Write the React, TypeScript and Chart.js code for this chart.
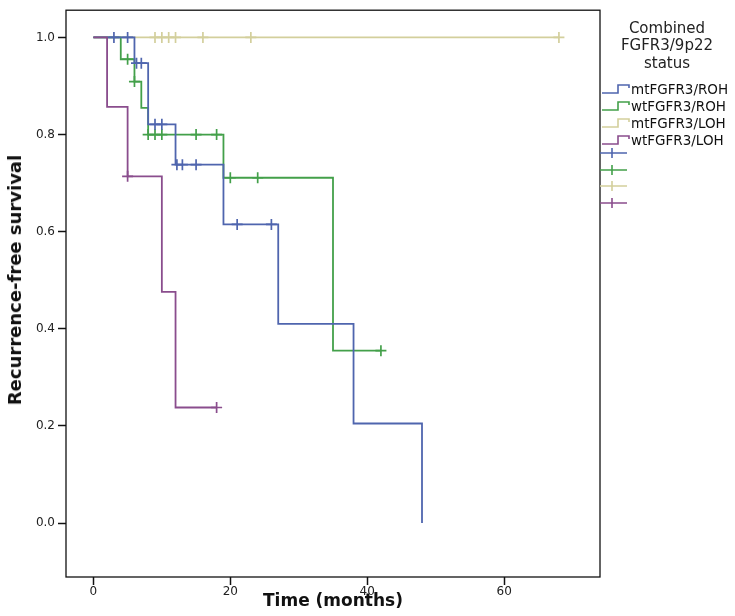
import React, { useEffect, useRef } from "react";
import { Chart, registerables } from "chart.js";

Chart.register(...registerables);

// ---- axes ----
const X_TICKS = [0, 20, 40, 60];
const Y_TICKS = [0, 0.2, 0.4, 0.6, 0.8, 1.0];
const X_MIN = -4;
const X_MAX = 74;
const Y_MIN = -0.111;
const Y_MAX = 1.056;
const X_TITLE = "Time (months)";
const Y_TITLE = "Recurrence-free survival";

// ---- legend ----
const LEGEND_TITLE = ["Combined", "FGFR3/9p22", "status"];
const SERIES_NAMES = ["mtFGFR3/ROH", "wtFGFR3/ROH", "mtFGFR3/LOH", "wtFGFR3/LOH"];
const SERIES_COLORS = ["#4f65ae", "#43a04a", "#d3cf9c", "#8a4d8d"];

// ---- survival curves (time in months, survival proportion) ----
const MT_ROH_TIME = [0, 6, 8, 12, 19, 27, 38, 48];
const MT_ROH_SURV = [1.0, 0.947, 0.821, 0.738, 0.615, 0.41, 0.205, 0.0];
const MT_ROH_CENS_TIME = [3, 5, 6.3, 7, 9, 10, 12.2, 13, 15, 21, 26];
const MT_ROH_CENS_SURV = [1.0, 1.0, 0.947, 0.947, 0.821, 0.821, 0.738, 0.738, 0.738, 0.615, 0.615];

const WT_ROH_TIME = [0, 4, 6, 7, 8, 19, 35, 42];
const WT_ROH_SURV = [1.0, 0.955, 0.909, 0.855, 0.8, 0.711, 0.355, 0.355];
const WT_ROH_CENS_TIME = [5, 6, 8, 9, 10, 15, 18, 20, 24, 42];
const WT_ROH_CENS_SURV = [0.955, 0.909, 0.8, 0.8, 0.8, 0.8, 0.8, 0.711, 0.711, 0.355];

const MT_LOH_TIME = [0, 68];
const MT_LOH_SURV = [1.0, 1.0];
const MT_LOH_CENS_TIME = [9, 10, 11, 12, 16, 23, 68];
const MT_LOH_CENS_SURV = [1.0, 1.0, 1.0, 1.0, 1.0, 1.0, 1.0];

const WT_LOH_TIME = [0, 2, 5, 10, 12, 18];
const WT_LOH_SURV = [1.0, 0.857, 0.714, 0.476, 0.238, 0.238];
const WT_LOH_CENS_TIME = [5, 18];
const WT_LOH_CENS_SURV = [0.714, 0.238];

const CURVES = [
  { t: MT_ROH_TIME, s: MT_ROH_SURV, ct: MT_ROH_CENS_TIME, cs: MT_ROH_CENS_SURV },
  { t: WT_ROH_TIME, s: WT_ROH_SURV, ct: WT_ROH_CENS_TIME, cs: WT_ROH_CENS_SURV },
  { t: MT_LOH_TIME, s: MT_LOH_SURV, ct: MT_LOH_CENS_TIME, cs: MT_LOH_CENS_SURV },
  { t: WT_LOH_TIME, s: WT_LOH_SURV, ct: WT_LOH_CENS_TIME, cs: WT_LOH_CENS_SURV },
];

const FONT = "'DejaVu Sans', sans-serif";
const TICK_LEN = 8;

const framePlugin = {
  id: "frame",
  afterDraw(chart: any) {
    const ctx = chart.ctx;
    const area = chart.chartArea;
    ctx.save();
    ctx.strokeStyle = "#111";
    ctx.lineWidth = 1.3;
    ctx.strokeRect(area.left, area.top, area.right - area.left, area.bottom - area.top);
    ctx.restore();
  },
};

export default function App() {
  const canvasRef = useRef<HTMLCanvasElement | null>(null);

  useEffect(() => {
    const canvas = canvasRef.current;
    if (!canvas) return;
    const datasets: any[] = [];
    const drawOrder = [1, 2, 3, 0];
    CURVES.forEach((c, i) => {
      datasets.push({
        type: "line",
        label: SERIES_NAMES[i],
        data: c.t.map((x, k) => ({ x, y: c.s[k] })),
        borderColor: SERIES_COLORS[i],
        borderWidth: 1.8,
        stepped: "before",
        pointRadius: 0,
        fill: false,
        order: drawOrder[i] + 4,
      });
    });
    CURVES.forEach((c, i) => {
      datasets.push({
        type: "scatter",
        label: SERIES_NAMES[i] + " censored",
        data: c.ct.map((x, k) => ({ x, y: c.cs[k] })),
        borderColor: SERIES_COLORS[i],
        backgroundColor: SERIES_COLORS[i],
        pointStyle: "cross",
        pointRadius: 5.5,
        pointBorderWidth: 1.7,
        borderWidth: 1.7,
        showLine: false,
        order: drawOrder[i],
      });
    });

    const chart = new Chart(canvas, {
      type: "line",
      data: { datasets },
      options: {
        animation: false,
        responsive: false,
        devicePixelRatio: 1,
        layout: { padding: { top: 10, right: 135, left: 0, bottom: 0 } },
        plugins: {
          legend: { display: false },
          tooltip: { enabled: false },
        },
        scales: {
          x: {
            type: "linear",
            min: X_MIN,
            max: X_MAX,
            afterBuildTicks: (scale: any) => {
              scale.ticks = X_TICKS.map((v) => ({ value: v }));
            },
            afterFit: (scale: any) => {
              scale.height = 39;
            },
            ticks: {
              font: { family: FONT, size: 12 },
              color: "#222",
              padding: 0,
              maxRotation: 0,
              callback: (v: any) => String(v),
            },
            grid: {
              display: true,
              drawOnChartArea: false,
              drawTicks: true,
              tickLength: TICK_LEN,
              color: "#111",
              tickColor: "#111",
              tickWidth: 1.5,
            },
            border: { display: false },
            title: {
              display: true,
              text: X_TITLE,
              font: { family: FONT, size: 17, weight: "bold" },
              color: "#111",
              padding: { top: 0, bottom: 4 },
            },
          },
          y: {
            type: "linear",
            min: Y_MIN,
            max: Y_MAX,
            afterBuildTicks: (scale: any) => {
              scale.ticks = Y_TICKS.map((v) => ({ value: v }));
            },
            afterFit: (scale: any) => {
              scale.width = 66;
            },
            ticks: {
              font: { family: FONT, size: 12 },
              color: "#222",
              padding: 3,
              callback: (v: any) => Number(v).toFixed(1),
            },
            grid: {
              display: true,
              drawOnChartArea: false,
              drawTicks: true,
              tickLength: TICK_LEN,
              color: "#111",
              tickColor: "#111",
              tickWidth: 1.5,
            },
            border: { display: false },
            title: { display: false },
          },
        },
      } as any,
      plugins: [framePlugin],
    });
    return () => chart.destroy();
  }, []);

  const rowCenters = [89, 106, 123, 140];
  const crossCenters = [153, 169.5, 186, 202.5];

  return (
    <div style={{ position: "fixed", left: 0, top: 0, width: 735, height: 616, background: "#fff" }}>
      <canvas ref={canvasRef} width={735} height={616} style={{ width: 735, height: 616, display: "block" }} />
      <div
        style={{
          position: "absolute",
          left: 15,
          top: 280,
          width: 0,
          height: 0,
        }}
      >
        <div
          style={{
            position: "absolute",
            left: 0,
            top: 0,
            transform: "translate(-50%, -50%) rotate(-90deg)",
            whiteSpace: "nowrap",
            fontFamily: FONT,
            fontSize: 18,
            fontWeight: "bold",
            lineHeight: "20px",
            color: "#111",
          }}
        >
          {Y_TITLE}
        </div>
      </div>
      <div
        style={{
          position: "absolute",
          left: 600,
          width: 134,
          top: 19.5,
          textAlign: "center",
          fontFamily: FONT,
          fontSize: 15,
          lineHeight: "17.5px",
          color: "#222",
        }}
      >
        {LEGEND_TITLE.map((l) => (
          <div key={l}>{l}</div>
        ))}
      </div>
      {SERIES_NAMES.map((name, i) => (
        <div
          key={name}
          style={{
            position: "absolute",
            left: 600,
            top: rowCenters[i] - 8.5,
            height: 17,
            display: "flex",
            alignItems: "center",
            fontFamily: FONT,
            fontSize: 13.5,
            color: "#111",
            whiteSpace: "nowrap",
          }}
        >
          <svg width={31} height={12} style={{ display: "block" }}>
            <path d="M2 10 H18 V2 H29 V5" fill="none" stroke={SERIES_COLORS[i]} strokeWidth={1.6} />
          </svg>
          <span>{name}</span>
        </div>
      ))}
      {SERIES_COLORS.map((c, i) => (
        <svg
          key={"c" + i}
          width={30}
          height={12}
          style={{ position: "absolute", left: 599, top: crossCenters[i] - 6, display: "block" }}
        >
          <path d="M1 6 H28 M13 1 V11" fill="none" stroke={c} strokeWidth={1.6} />
        </svg>
      ))}
    </div>
  );
}
